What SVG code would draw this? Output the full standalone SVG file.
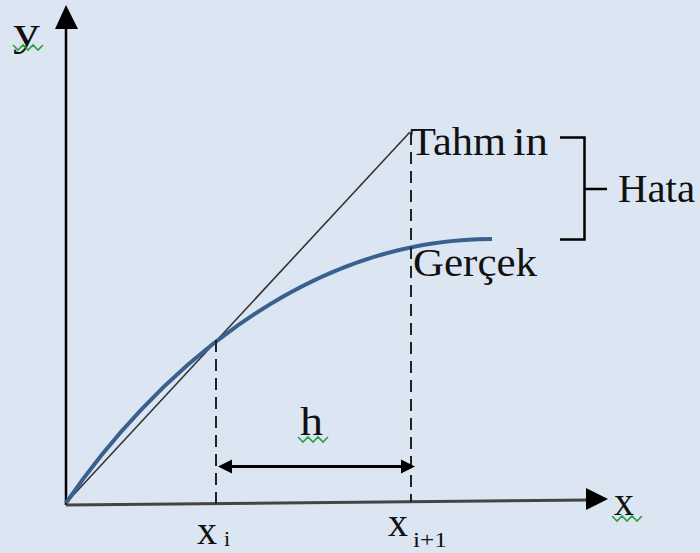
<svg xmlns="http://www.w3.org/2000/svg" width="700" height="553" viewBox="0 0 700 553">
<style>
.t{font-family:"Liberation Serif","Times New Roman",serif;font-size:40px;fill:#111}
.s{font-size:22px}
.dash{stroke:#222;stroke-width:2;stroke-dasharray:12 7;fill:none}
.sq{stroke:#2e9e3e;stroke-width:1.6;fill:none}
.br{stroke:#000;stroke-width:2.5;fill:none}
</style>
<rect width="700" height="553" fill="#dce6f2"/>
<g id="connectors">
  <line id="y-axis" x1="66" y1="505" x2="66" y2="24" stroke="#000" stroke-width="2.5"/>
  <polygon points="66,5 55,29 78,29" fill="#000"/>
  <line id="x-axis" x1="66" y1="505" x2="590" y2="500" stroke="#444" stroke-width="3"/>
  <polygon points="608,499 586,488 586,510" fill="#000"/>
  <line id="tangent" x1="66" y1="503" x2="410" y2="132" stroke="#333" stroke-width="1.6"/>
  <path id="curve" d="M66,503 C150,380 300,239 492,239" stroke="#3a6090" stroke-width="4" fill="none"/>
  <line class="dash" x1="216" y1="340" x2="216" y2="505"/>
  <line class="dash" x1="411" y1="133" x2="411" y2="502"/>
  <line id="h-arrow" x1="230" y1="466.5" x2="403" y2="466.5" stroke="#000" stroke-width="3"/>
  <polygon points="218,466.5 232,459.5 232,473.5" fill="#000"/>
  <polygon points="415,466.5 401,459.5 401,473.5" fill="#000"/>
  <path id="hata-brace" class="br" d="M560,137.5 H584.5 V239.5 H560 M584.5,189 H607"/>
</g>
<g id="label-y"><text class="t" x="13" y="45" textLength="27" lengthAdjust="spacingAndGlyphs">y</text><polyline class="sq" points="13,45 18,50 23,45 28,50 33,45 38,50 43,45"/></g>
<g id="label-x"><text class="t" x="614" y="515">x</text><polyline class="sq" points="612,516 617,521 622,516 627,521 632,516 637,521 642,516"/></g>
<g id="label-tahmin"><text class="t" y="155"><tspan x="410" textLength="96" lengthAdjust="spacingAndGlyphs">Tahm</tspan><tspan x="513" textLength="35" lengthAdjust="spacingAndGlyphs">in</tspan></text></g>
<g id="label-gercek"><text class="t" x="413" y="276" textLength="124" lengthAdjust="spacingAndGlyphs">Gerçek</text></g>
<g id="label-hata"><text class="t" x="618" y="202" textLength="77" lengthAdjust="spacingAndGlyphs">Hata</text></g>
<g id="label-h"><text class="t" x="300" y="435" textLength="23" lengthAdjust="spacingAndGlyphs">h</text><polyline class="sq" points="298,437 303,442 308,437 313,442 318,437 323,442 328,437"/></g>
<g id="label-xi"><text class="t" x="197" y="544">x</text><text class="t s" x="224" y="546">i</text></g>
<g id="label-xi1"><text class="t" x="388" y="536">x</text><text class="t s" x="413" y="547" textLength="34" lengthAdjust="spacingAndGlyphs">i+1</text></g>
</svg>
